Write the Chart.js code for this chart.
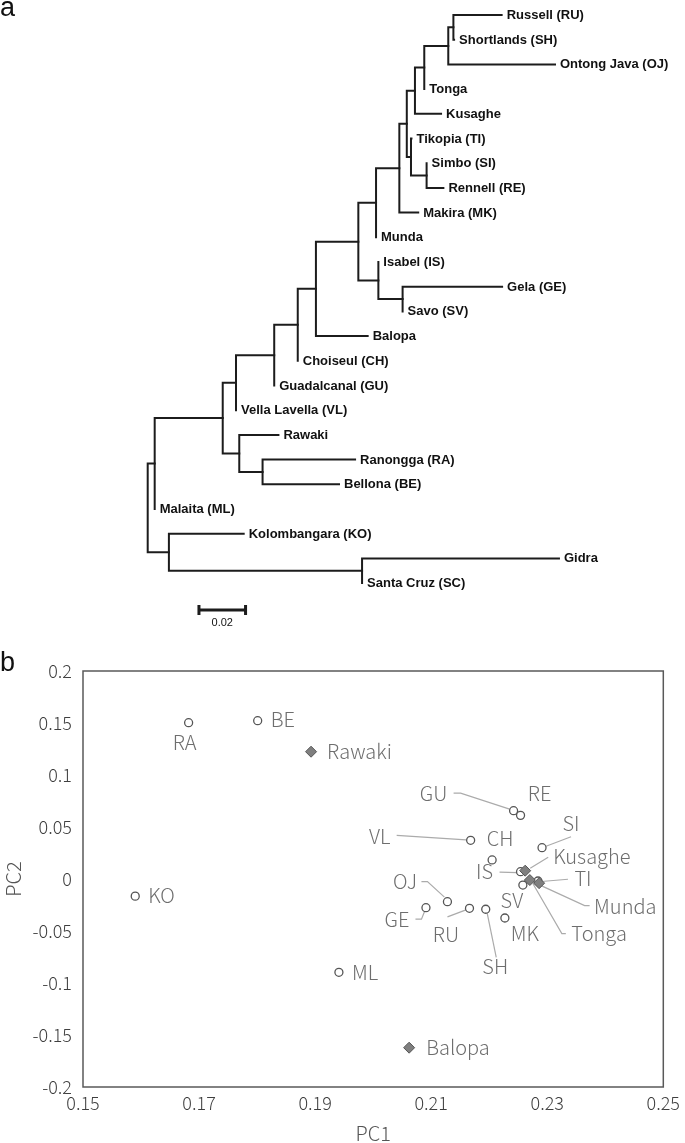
<!DOCTYPE html>
<html lang="en">
<head>
<meta charset="UTF-8">
<title>Tree and PCA</title>
<script src="https://cdn.jsdelivr.net/npm/chart.js"></script>
<style>
  body { margin: 0; background: #fff; }
  #page { position: relative; width: 685px; height: 1143px; overflow: hidden; }
  .letter { position: absolute; left: 0; font-family: "Liberation Sans", Arial, sans-serif; font-size: 27px; line-height: 1; color: #111; }
  #treeChart { position: absolute; left: 0; top: 0; }
  #pcaChart { position: absolute; left: 0; top: 640px; }
</style>
</head>
<body>
<div id="page">
  <canvas id="treeChart" width="685" height="640"></canvas>
  <canvas id="pcaChart" width="685" height="503"></canvas>
  <div class="letter" style="top:-6px">a</div>
  <div class="letter" style="top:649px">b</div>
</div>
<script>
// ---- panel a: neighbour-joining tree ----
const tipNames = ['Russell (RU)', 'Shortlands (SH)', 'Ontong Java (OJ)', 'Tonga', 'Kusaghe', 'Tikopia (TI)',
  'Simbo (SI)', 'Rennell (RE)', 'Makira (MK)', 'Munda', 'Isabel (IS)', 'Gela (GE)', 'Savo (SV)', 'Balopa',
  'Choiseul (CH)', 'Guadalcanal (GU)', 'Vella Lavella (VL)', 'Rawaki', 'Ranongga (RA)', 'Bellona (BE)',
  'Malaita (ML)', 'Kolombangara (KO)', 'Gidra', 'Santa Cruz (SC)'];
// distance from the root
const tipDepth = [0.1519, 0.1315, 0.1748, 0.1187, 0.1259, 0.1132, 0.1197, 0.1269, 0.1161, 0.0980, 0.0990, 0.1521,
  0.1094, 0.0944, 0.0644, 0.0543, 0.0379, 0.0561, 0.0890, 0.0821, 0.0030, 0.0412, 0.1765, 0.0920];
// internal nodes, numbered from 24; children are tips (0-23) or earlier nodes
const nodeChildren = [[0, 1], [24, 2], [25, 3], [26, 4], [6, 7], [5, 28], [27, 29], [30, 8], [31, 9], [11, 12],
  [10, 33], [32, 34], [35, 13], [36, 14], [37, 15], [38, 16], [18, 19], [17, 40], [39, 41], [42, 20], [22, 23],
  [21, 44], [43, 45]];
const nodeDepth = [0.1312, 0.1290, 0.1187, 0.1147, 0.1197, 0.1130, 0.1112, 0.1080, 0.0980, 0.1094, 0.0990, 0.0904,
  0.0722, 0.0644, 0.0543, 0.0379, 0.0493, 0.0393, 0.0322, 0.0030, 0.0920, 0.0091, 0];
const scaleBarLength = 0.02;

// ---- panel b: PCA ----
const sampleCodes = ['RA', 'BE', 'Rawaki', 'KO', 'ML', 'Balopa', 'GU', 'RE', 'VL', 'CH', 'SI', 'IS', 'Kusaghe',
  'Tonga', 'TI', 'Munda', 'SV', 'MK', 'OJ', 'GE', 'RU', 'SH'];
const pc1 = [0.1682, 0.1801, 0.1893, 0.1590, 0.1941, 0.2062, 0.2242, 0.2254, 0.2168, 0.2205, 0.2291, 0.2254, 0.2262,
  0.2270, 0.2284, 0.2286, 0.2258, 0.2227, 0.2128, 0.2091, 0.2166, 0.2194];
const pc2 = [0.1503, 0.1522, 0.1224, -0.0165, -0.0897, -0.1622, 0.0657, 0.0612, 0.0372, 0.0183, 0.0301, 0.0070, 0.0080,
  -0.0010, -0.0019, -0.0040, -0.0058, -0.0375, -0.0218, -0.0276, -0.0282, -0.0291];
const diamondSamples = ['Rawaki', 'Balopa', 'Kusaghe', 'Tonga', 'Munda'];
const pc1Ticks = [0.15, 0.25, 0.02];
const pc2Ticks = [-0.2, 0.2, 0.05];

// label placement in px relative to the point, leader lines as px offsets
const labelLayout = {
  RA: { dx: -4, dy: 20, align: 'center' },
  BE: { dx: 13, dy: -1, align: 'left' },
  Rawaki: { dx: 16, dy: 0, align: 'left' },
  KO: { dx: 13, dy: -1, align: 'left' },
  ML: { dx: 13, dy: 0, align: 'left' },
  Balopa: { dx: 17, dy: 0, align: 'left' },
  GU: { dx: -80, dy: -17, align: 'center', leader: [[-60, -17.5], [-53, -17.5], [-4, -1.5]] },
  RE: { dx: 19, dy: -22, align: 'center' },
  VL: { dx: -91, dy: -4, align: 'center', leader: [[-74, -5], [-4.5, -0.5]] },
  CH: { dx: 8, dy: -22, align: 'center' },
  SI: { dx: 29, dy: -24, align: 'center', leader: [[29, -11], [4, -1.5]] },
  IS: { dx: -36, dy: 0, align: 'center', leader: [[-21, 0.5], [-3.5, 1]] },
  Kusaghe: { dx: 28, dy: -14, align: 'left', leader: [[23, -13.5], [5, -2.5]] },
  TI: { dx: 45, dy: -3, align: 'center', leader: [[30, -1.7], [3.5, 0.5]] },
  Munda: { dx: 55, dy: 23.5, align: 'left', leader: [[50.5, 22.5], [45.5, 22.5], [2, 2.5]] },
  Tonga: { dx: 41.5, dy: 53.5, align: 'left', leader: [[36, 53.5], [32, 53.5], [3, 3.5]] },
  SV: { dx: -11, dy: 15, align: 'center' },
  MK: { dx: 20, dy: 15.5, align: 'center' },
  OJ: { dx: -42.5, dy: -20, align: 'center', leader: [[-26, -20], [-20, -20], [-3, -4.5]] },
  GE: { dx: -29, dy: 11.5, align: 'center', leader: [[-10.5, 11.5], [-4.5, 11.5], [-1.5, 4]] },
  RU: { dx: -23.5, dy: 26.5, align: 'center', leader: [[-22, 8.5], [-3.5, 1.5]] },
  SH: { dx: 9.5, dy: 57.5, align: 'center', leader: [[10.5, 48], [1.5, 4]] }
};

// ---------- tree ----------
const nTips = tipNames.length;
const nodeY = [];
function depthOf(k) { return k < nTips ? tipDepth[k] : nodeDepth[k - nTips]; }
function yOf(k) { return k < nTips ? k : nodeY[k - nTips]; }
nodeChildren.forEach((c, i) => { nodeY[i] = (yOf(c[0]) + yOf(c[1])) / 2; });

const treeSets = nodeChildren.map((c, i) => ({
  data: [
    { x: depthOf(c[0]), y: yOf(c[0]) },
    { x: nodeDepth[i], y: yOf(c[0]) },
    { x: nodeDepth[i], y: yOf(c[1]) },
    { x: depthOf(c[1]), y: yOf(c[1]) }
  ],
  showLine: true, borderColor: '#1c1c1c', borderWidth: 2, pointRadius: 0,
  borderJoinStyle: 'miter', borderCapStyle: 'square'
}));

// scale bar
const barStart = 0.022, barY = 24.09, capH = 0.2;
treeSets.push({
  data: [
    { x: barStart, y: barY - capH }, { x: barStart, y: barY + capH }, { x: barStart, y: barY },
    { x: barStart + scaleBarLength, y: barY }, { x: barStart + scaleBarLength, y: barY - capH },
    { x: barStart + scaleBarLength, y: barY + capH }
  ],
  showLine: true, borderColor: '#1c1c1c', borderWidth: 3, pointRadius: 0, borderJoinStyle: 'miter'
});

const tipLabels = {
  id: 'tipLabels',
  afterDatasetsDraw(chart) {
    const { ctx, scales: { x, y } } = chart;
    ctx.save();
    ctx.fillStyle = '#111';
    ctx.font = 'bold 13px "Liberation Sans", Arial, sans-serif';
    ctx.textBaseline = 'middle';
    ctx.textAlign = 'left';
    tipNames.forEach((name, i) => {
      ctx.fillText(name, x.getPixelForValue(tipDepth[i]) + 5, y.getPixelForValue(i) + 0.5);
    });
    ctx.font = '11px "Liberation Sans", Arial, sans-serif';
    ctx.textAlign = 'center';
    ctx.fillText(String(scaleBarLength), x.getPixelForValue(barStart + scaleBarLength / 2), y.getPixelForValue(barY) + 12.5);
    ctx.restore();
  }
};

new Chart(document.getElementById('treeChart'), {
  type: 'scatter',
  data: { datasets: treeSets },
  options: {
    responsive: false,
    animation: false,
    layout: { padding: 0 },
    plugins: { legend: { display: false }, tooltip: { enabled: false } },
    scales: {
      x: { type: 'linear', display: false, min: -0.06339, max: 0.23060 },
      y: { type: 'linear', display: false, reverse: true, min: -0.6073, max: 25.3033 }
    }
  },
  plugins: [tipLabels]
});

// ---------- PCA ----------
const circlePts = [], diamondPts = [];
sampleCodes.forEach((code, i) => {
  (diamondSamples.includes(code) ? diamondPts : circlePts).push({ x: pc1[i], y: pc2[i] });
});

const labelFont = '300 20px "Noto Sans CJK JP", "Noto Sans", sans-serif';

const pcaDecor = {
  id: 'pcaDecor',
  beforeDatasetsDraw(chart) {
    const { ctx, scales: { x, y } } = chart;
    ctx.save();
    ctx.strokeStyle = '#ababab';
    ctx.lineWidth = 1.2;
    sampleCodes.forEach((code, i) => {
      const lay = labelLayout[code];
      if (!lay.leader) return;
      const px = x.getPixelForValue(pc1[i]), py = y.getPixelForValue(pc2[i]);
      ctx.beginPath();
      lay.leader.forEach(([dx, dy], k) => k ? ctx.lineTo(px + dx, py + dy) : ctx.moveTo(px + dx, py + dy));
      ctx.stroke();
    });
    ctx.restore();
  },
  afterDatasetsDraw(chart) {
    const { ctx, chartArea: a, scales: { x, y } } = chart;
    ctx.save();
    ctx.fillStyle = '#6e6e6e';
    ctx.font = labelFont;
    ctx.textBaseline = 'middle';
    sampleCodes.forEach((code, i) => {
      const lay = labelLayout[code];
      ctx.textAlign = lay.align;
      ctx.fillText(code, x.getPixelForValue(pc1[i]) + lay.dx, y.getPixelForValue(pc2[i]) + lay.dy);
    });
    ctx.strokeStyle = '#595959';
    ctx.lineWidth = 1.5;
    ctx.strokeRect(a.left, a.top, a.right - a.left, a.bottom - a.top);
    ctx.restore();
  }
};

const tickFont = { family: '"Noto Sans CJK JP", "Noto Sans", sans-serif', size: 18, weight: 300 };
const titleFont = { ...tickFont, size: 20, lineHeight: 1 };

new Chart(document.getElementById('pcaChart'), {
  type: 'scatter',
  data: {
    datasets: [
      {
        data: diamondPts, pointStyle: 'rectRot', pointRadius: 5.5,
        backgroundColor: '#7f7f7f', borderColor: '#555', borderWidth: 1
      },
      {
        data: circlePts, pointStyle: 'circle', pointRadius: 4,
        backgroundColor: '#fff', borderColor: '#555', borderWidth: 1.3
      }
    ]
  },
  options: {
    responsive: false,
    animation: false,
    layout: { padding: { top: 31, right: 19, left: 0, bottom: 0 } },
    plugins: { legend: { display: false }, tooltip: { enabled: false } },
    scales: {
      x: {
        type: 'linear', min: pc1Ticks[0], max: pc1Ticks[1],
        grid: { display: false, drawTicks: false }, border: { display: false },
        ticks: { stepSize: pc1Ticks[2], padding: 5, color: '#3f3f3f', font: tickFont,
          callback: v => String(+v.toFixed(2)) },
        title: { display: true, text: 'PC1', color: '#555', font: titleFont, padding: 0 },
        afterFit(scale) { scale.height = 56; }
      },
      y: {
        type: 'linear', min: pc2Ticks[0], max: pc2Ticks[1],
        grid: { display: false, drawTicks: false }, border: { display: false },
        ticks: { stepSize: pc2Ticks[2], padding: 11, color: '#3f3f3f', font: tickFont,
          callback: v => String(+v.toFixed(2)) },
        title: { display: true, text: 'PC2', color: '#555', font: titleFont, padding: { top: 3 } },
        afterFit(scale) { scale.width = 83; }
      }
    }
  },
  plugins: [pcaDecor]
});
</script>
</body>
</html>
